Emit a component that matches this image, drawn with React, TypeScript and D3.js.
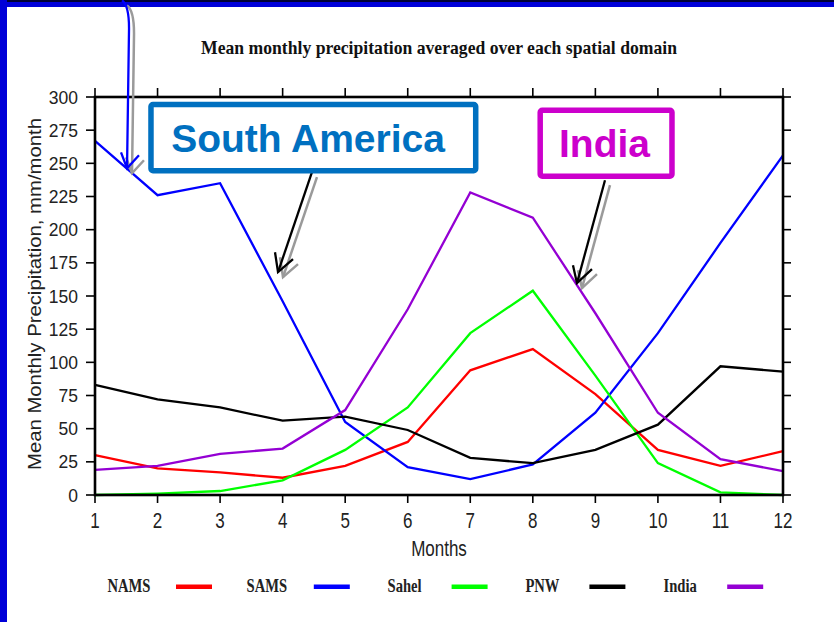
import React from "react";
import * as d3 from "d3";

const months = [1, 2, 3, 4, 5, 6, 7, 8, 9, 10, 11, 12];
const seriesNames = ["NAMS", "SAMS", "Sahel", "PNW", "India"];
const nams = [30, 20, 17, 13, 22, 40, 94, 110, 76, 34, 22, 33];
const sams = [267, 226, 235, 146, 55, 21, 12, 23, 62, 122, 190, 256];
const sahel = [0, 1, 3, 11, 34, 66, 122, 154, 90, 24, 2, 0];
const pnw = [83, 72, 66, 56, 59, 49, 28, 24, 34, 53, 97, 93];
const india = [19, 22, 31, 35, 64, 140, 228, 209, 137, 62, 27, 18];
const yTicks = [0, 25, 50, 75, 100, 125, 150, 175, 200, 225, 250, 275, 300];
const seriesValues = [nams, sams, sahel, pnw, india];
const seriesColors = ["#ff0000", "#0000ff", "#00ff00", "#000000", "#9400d3"];

// annotation geometry in data units (month, mm/month)
const blueArrowPath = [
  [1.432, 372.8],
  [1.544, 369.1],
  [1.544, 351.7],
  [1.512, 246.3],
];
const blueArrowHead = [[1.416, 258.3], [1.512, 246.3], [1.703, 256.1]];
const saArrow = [[4.469, 243.3], [3.926, 168.0]];
const saArrowHead = [[3.878, 183.0], [3.926, 168.0], [4.166, 177.8]];
const indiaArrow = [[9.154, 237.3], [8.706, 159.7]];
const indiaArrowHead = [[8.642, 173.2], [8.706, 159.7], [8.946, 170.2]];
const saBox = { m0: 1.895, m1: 7.087, v0: 294.3, v1: 244.4, tm: 4.406, tv: 258.3 };
const indiaBox = { m0: 8.118, m1: 10.225, v0: 290.0, v1: 240.3, tm: 9.146, tv: 254.6 };

export default function App() {
  const W = 834;
  const H = 622;
  const x = d3.scaleLinear().domain([1, 12]).range([95, 783]);
  const y = d3.scaleLinear().domain([0, 300]).range([495, 97]);
  const line = d3
    .line<number>()
    .x((_, i) => x(months[i]))
    .y((d) => y(d));
  const poly = (pts: number[][]) =>
    pts.map((p, i) => `${i ? "L" : "M"}${x(p[0])},${y(p[1])}`).join("");
  const bluePath =
    `M${x(blueArrowPath[0][0])},${y(blueArrowPath[0][1])}` +
    `Q${x(blueArrowPath[1][0])},${y(blueArrowPath[1][1])} ${x(blueArrowPath[2][0])},${y(blueArrowPath[2][1])}` +
    `L${x(blueArrowPath[3][0])},${y(blueArrowPath[3][1])}`;

  const sans = "'Liberation Sans', Arial, sans-serif";
  const serif = "'Liberation Serif', 'Times New Roman', serif";
  const x0 = x(1), x1 = x(12), y0 = y(0), y1 = y(300);

  return (
    <svg
      width={W}
      height={H}
      style={{ position: "absolute", left: 0, top: 0, background: "#fff" }}
    >
      <rect x={0} y={0} width={W} height={H} fill="#fff" />
      {/* slide border */}
      <rect x={0} y={0} width={W} height={7} fill="#0000d8" />
      <rect x={0} y={0} width={W} height={2} fill="#000033" />
      <rect x={0} y={0} width={7} height={H} fill="#0000d8" />

      {/* title */}
      <text
        transform={`translate(439,54) scale(1,1.25)`}
        textAnchor="middle"
        fontFamily={serif}
        fontWeight="bold"
        fontSize={15}
        textLength={476}
        lengthAdjust="spacingAndGlyphs"
        fill="#111"
      >
        Mean monthly precipitation averaged over each spatial domain
      </text>

      {/* data lines */}
      {seriesValues.map((vals, i) => (
        <path
          key={seriesNames[i]}
          d={line(vals) || ""}
          fill="none"
          stroke={seriesColors[i]}
          strokeWidth={2.3}
          strokeLinejoin="miter"
        />
      ))}

      {/* frame */}
      <rect x={x0} y={y1} width={x1 - x0} height={y0 - y1} fill="none" stroke="#000" strokeWidth={2.6} />
      {months.map((m) => (
        <g key={"xt" + m}>
          <line x1={x(m)} x2={x(m)} y1={y0} y2={y0 + 8} stroke="#000" strokeWidth={1.6} />
          <line x1={x(m)} x2={x(m)} y1={y1} y2={y1 - 9} stroke="#000" strokeWidth={1.6} />
          <text
            transform={`translate(${x(m)},528) scale(1,1.3)`}
            textAnchor="middle"
            fontFamily={sans}
            fontSize={17}
            fill="#222"
          >
            {m}
          </text>
        </g>
      ))}
      {yTicks.map((t) => (
        <g key={"yt" + t}>
          <line x1={x0} x2={x0 - 9} y1={y(t)} y2={y(t)} stroke="#000" strokeWidth={1.6} />
          <line x1={x1} x2={x1 + 8} y1={y(t)} y2={y(t)} stroke="#000" strokeWidth={1.6} />
          <text
            x={78}
            y={y(t) + 6.5}
            textAnchor="end"
            fontFamily={sans}
            fontSize={17.5}
            fill="#222"
          >
            {t}
          </text>
        </g>
      ))}

      {/* axis titles */}
      <text
        transform={`translate(439,556) scale(1,1.3)`}
        textAnchor="middle"
        fontFamily={sans}
        fontSize={17}
        fill="#222"
      >
        Months
      </text>
      <text
        transform={`translate(41,${(y0 + y1) / 2 - 2}) rotate(-90)`}
        textAnchor="middle"
        fontFamily={sans}
        fontSize={18}
        textLength={352}
        lengthAdjust="spacingAndGlyphs"
        fill="#222"
      >
        Mean Monthly Precipitation, mm/month
      </text>

      {/* legend */}
      {seriesNames.map((name, i) => {
        const cx = 129 + i * 137.8;
        return (
          <g key={"lg" + name}>
            <text
              transform={`translate(${cx},592) scale(1,1.27)`}
              textAnchor="middle"
              fontFamily={serif}
              fontWeight="bold"
              fontSize={14.6}
              fill="#222"
            >
              {name}
            </text>
            <line x1={cx + 47} x2={cx + 83} y1={586.7} y2={586.7} stroke={seriesColors[i]} strokeWidth={4.5} />
          </g>
        );
      })}

      {/* annotations: shadows */}
      <g transform="translate(5,5)" stroke="#9a9a9a" strokeWidth={2.5} fill="none">
        <path d={bluePath} />
        <path d={poly(blueArrowHead)} />
        <path d={poly(saArrow)} />
        <path d={poly(saArrowHead)} />
        <path d={poly(indiaArrow)} />
        <path d={poly(indiaArrowHead)} />
      </g>
      <g fill="none" strokeWidth={2.3}>
        <path d={bluePath} stroke="#0000ff" />
        <path d={poly(blueArrowHead)} stroke="#0000ff" />
        <path d={poly(saArrow)} stroke="#000" />
        <path d={poly(saArrowHead)} stroke="#000" />
        <path d={poly(indiaArrow)} stroke="#000" />
        <path d={poly(indiaArrowHead)} stroke="#000" />
      </g>

      {/* callout boxes */}
      <rect
        x={x(saBox.m0)}
        y={y(saBox.v0)}
        width={x(saBox.m1) - x(saBox.m0)}
        height={y(saBox.v1) - y(saBox.v0)}
        fill="#fff"
        stroke="#0070c0"
        strokeWidth={5.5}
        rx={2}
      />
      <text
        x={x(saBox.tm)}
        y={y(saBox.tv)}
        textAnchor="middle"
        fontFamily={sans}
        fontWeight="bold"
        fontSize={39}
        fill="#0070c0"
      >
        South America
      </text>
      <rect
        x={x(indiaBox.m0)}
        y={y(indiaBox.v0)}
        width={x(indiaBox.m1) - x(indiaBox.m0)}
        height={y(indiaBox.v1) - y(indiaBox.v0)}
        fill="#fff"
        stroke="#cc00cc"
        strokeWidth={5.5}
        rx={2}
      />
      <text
        x={x(indiaBox.tm)}
        y={y(indiaBox.tv)}
        textAnchor="middle"
        fontFamily={sans}
        fontWeight="bold"
        fontSize={39}
        fill="#cc00cc"
      >
        India
      </text>
    </svg>
  );
}
